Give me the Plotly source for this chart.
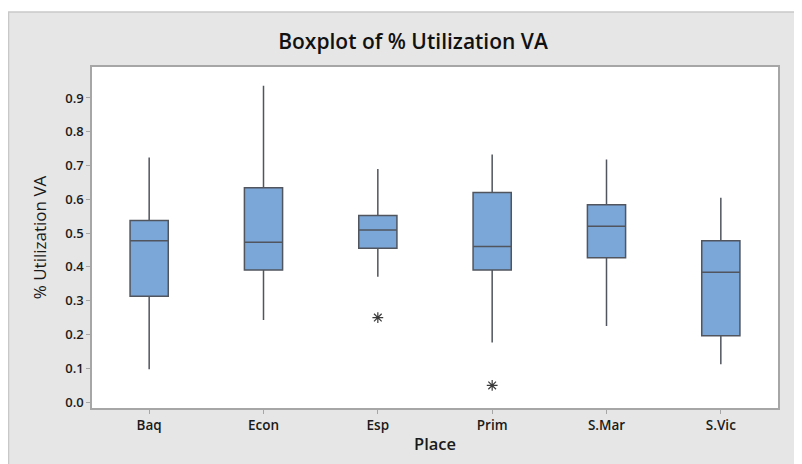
import plotly.graph_objects as go

categories = ["Baq", "Econ", "Esp", "Prim", "S.Mar", "S.Vic"]
lower_whisker = [0.097, 0.243, 0.371, 0.176, 0.225, 0.112]
q1_vals = [0.313, 0.391, 0.455, 0.391, 0.427, 0.196]
median_vals = [0.477, 0.473, 0.509, 0.460, 0.520, 0.384]
q3_vals = [0.537, 0.634, 0.552, 0.620, 0.584, 0.477]
upper_whisker = [0.724, 0.936, 0.690, 0.733, 0.718, 0.605]

outlier_places = ["Esp", "Prim"]
outlier_values = [0.250, 0.049]

y_tick_vals = [0.0, 0.1, 0.2, 0.3, 0.4, 0.5, 0.6, 0.7, 0.8, 0.9]
y_tick_text = ["0.0", "0.1", "0.2", "0.3", "0.4", "0.5", "0.6", "0.7", "0.8", "0.9"]

FONT = "Open Sans"
GRAY_BG = "#E6E6E6"
AXIS_GRAY = "#A6A6A6"

# The page adds an 8px body margin; figure coordinates = page coordinates - 8
OFF = 8
W, H = 802 - OFF, 464 - OFF
L, R, T, B = 92 - OFF, 778 - OFF, 67 - OFF, 408 - OFF

def px(x):
    return (x - OFF - L) / (R - L)
def py(y):
    return (B - (y - OFF)) / (B - T)

fig = go.Figure()
fig.add_trace(go.Box(
    x=categories,
    q1=q1_vals, median=median_vals, q3=q3_vals,
    lowerfence=lower_whisker, upperfence=upper_whisker,
    width=0.334, whiskerwidth=0,
    fillcolor="#7BA7D8",
    line=dict(color="#50555E", width=1.5),
    boxpoints=False, showlegend=False, hoverinfo="skip",
))
fig.add_trace(go.Scatter(
    x=outlier_places, y=outlier_values, mode="markers",
    marker=dict(symbol="asterisk-open", size=9, color="#3A3A3A",
                line=dict(color="#3A3A3A", width=1.2)),
    showlegend=False, hoverinfo="skip",
))

shapes = [
    dict(type="rect", xref="paper", yref="paper", x0=px(0), x1=px(820),
         y0=py(12), y1=py(0), fillcolor="white", line=dict(width=0), layer="below"),
    dict(type="line", xref="paper", yref="paper", x0=px(8), x1=px(820),
         y0=py(12), y1=py(12), line=dict(color="#C8C8C8", width=1.5), layer="below"),
    dict(type="line", xref="paper", yref="paper", x0=px(8.5), x1=px(8.5),
         y0=py(12), y1=py(480), line=dict(color="#C8C8C8", width=1.5), layer="below"),
]

fig.update_layout(
    width=W, height=H,
    margin=dict(l=L, r=W - R, t=T, b=H - B, autoexpand=False),
    paper_bgcolor=GRAY_BG, plot_bgcolor="white",
    font=dict(family=FONT, color="#1A1A1A"),
    title=dict(text="Boxplot of % Utilization VA", x=px(413), xref="paper",
               xanchor="center", y=1 - (42 - OFF) / H, yref="container", yanchor="middle",
               font=dict(family=FONT, size=21, color="#111111", weight=600)),
    shapes=shapes,
    xaxis=dict(
        type="category", range=[-0.5, 5.5], automargin=False,
        showline=True, mirror=True, linecolor=AXIS_GRAY, linewidth=1.5,
        ticks="outside", ticklen=4, tickcolor=AXIS_GRAY,
        showgrid=False, zeroline=False,
        tickfont=dict(size=13.5, color="#1A1A1A", weight=600),
        title=dict(text="Place", standoff=5,
                   font=dict(size=16.5, color="#1A1A1A", weight=600)),
    ),
    yaxis=dict(
        range=[-(408 - 402) / 337.8, (402 - 67) / 337.8], automargin=False,
        tickvals=y_tick_vals, ticktext=y_tick_text,
        showline=True, mirror=True, linecolor=AXIS_GRAY, linewidth=1.5,
        ticks="outside", ticklen=4, tickcolor=AXIS_GRAY,
        showgrid=False, zeroline=False,
        tickfont=dict(size=13, color="#1A1A1A", weight=600),
        title=dict(text="% Utilization VA", standoff=14,
                   font=dict(size=17, color="#1A1A1A", weight=400)),
    ),
)

fig.write_html("out.html")
